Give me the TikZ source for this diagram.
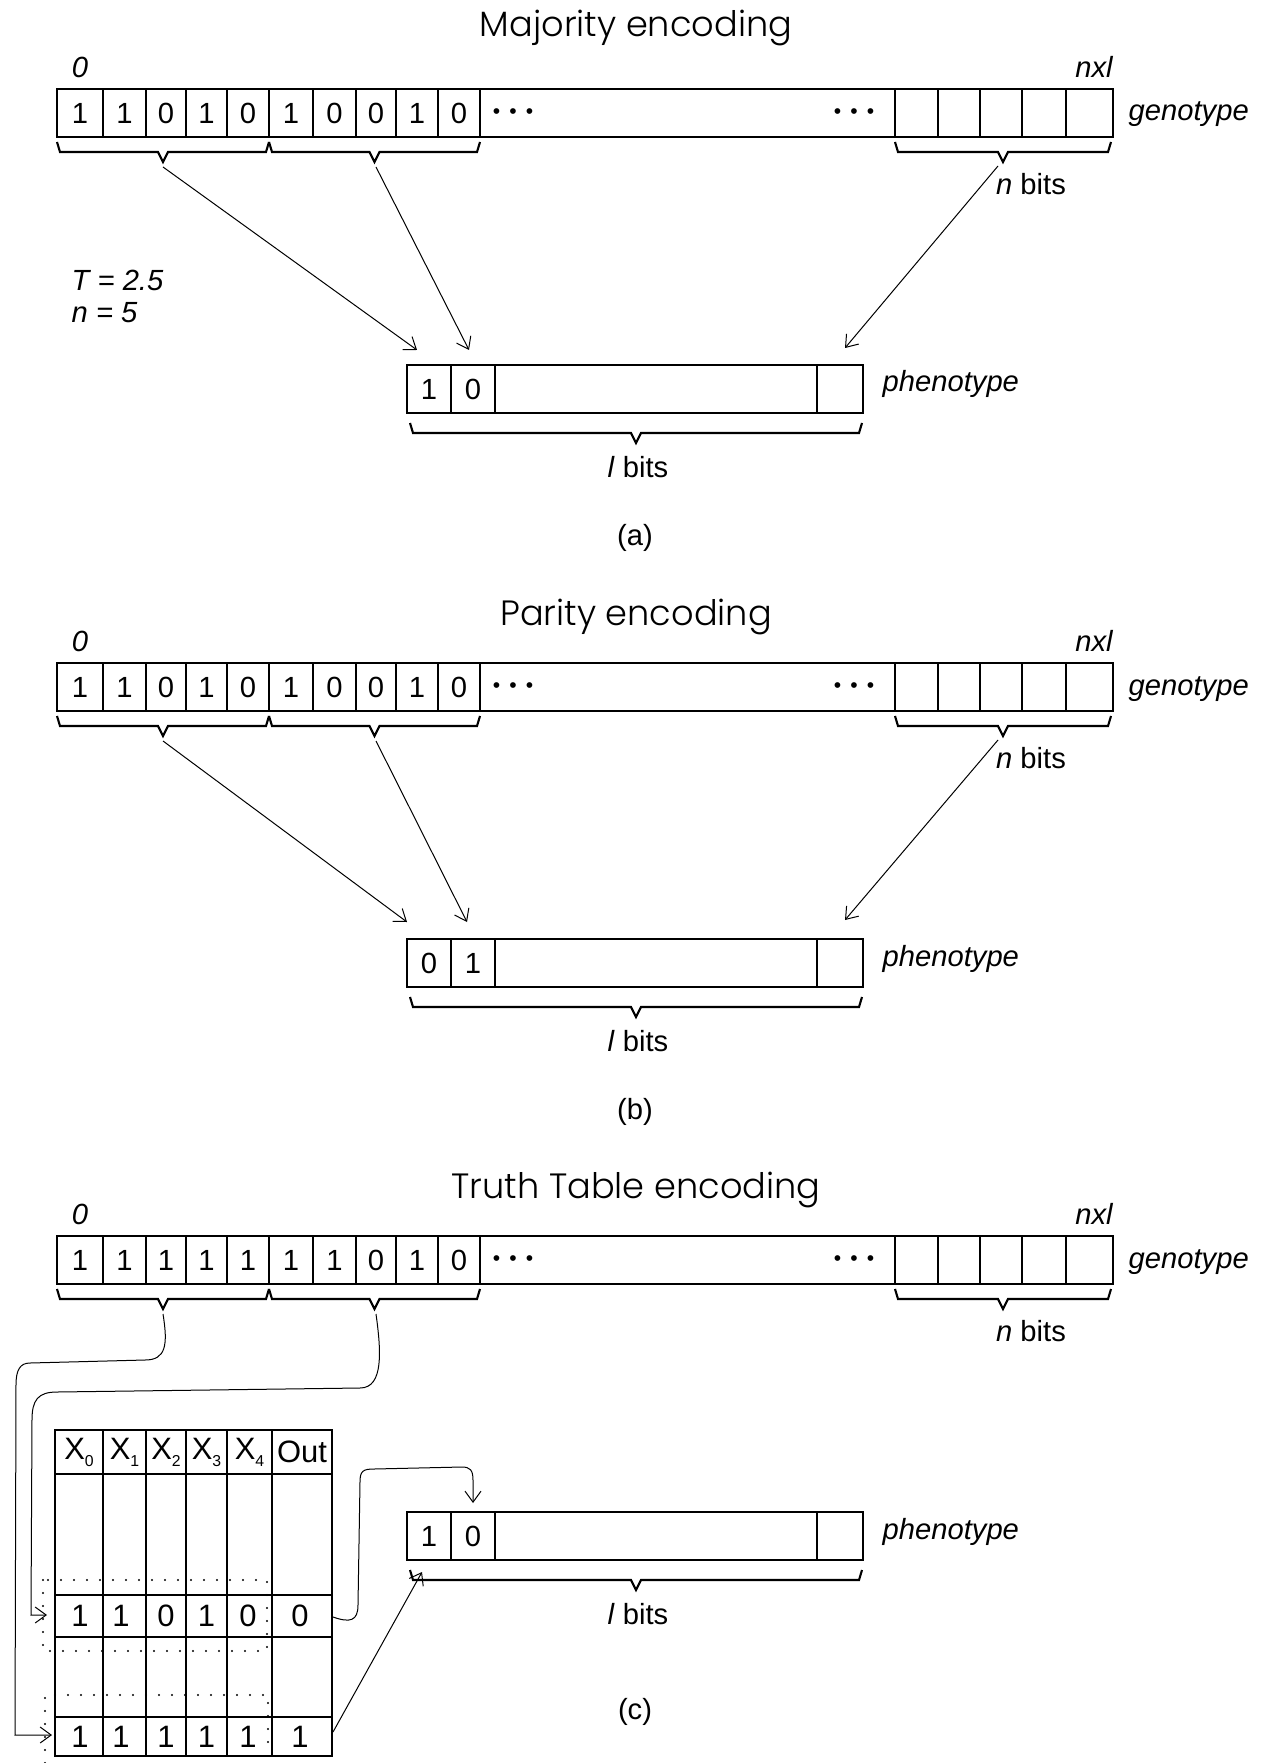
\documentclass[tikz,border=0pt]{standalone}
\usepackage{fontspec}
\setmainfont{Liberation Sans}
\IfFontExistsTF{Poppins Light}
  {\newfontfamily\titlefont{Poppins Light}}
  {\newfontfamily\titlefont{Poppins}}
\usetikzlibrary{arrows.meta}

\tikzset{
  cellbox/.style={line width=0.21mm},
  thinarrow/.style={line width=0.1mm, -{Straight Barb[length=1.1mm,width=1.6mm]}},
  bitlab/.style={font=\fontsize{8.3}{10}\selectfont, inner sep=0pt},
  rowlab/.style={font=\fontsize{8.8}{10}\selectfont, inner sep=0pt},
  sidelab/.style={font=\fontsize{8.3}{10}\selectfont\itshape, inner sep=0pt},
  heading/.style={font=\titlefont\fontsize{10}{12}\selectfont, inner sep=0pt, anchor=base},
  dotsrow/.style={font=\fontsize{6}{6}\selectfont, inner sep=0pt},
  dotrule/.style={line width=0.22mm, line cap=round, dash pattern=on 0pt off 1.3mm},
}

% angular brace under a run of cells: left x, right x, top y
\newcommand{\bitbrace}[3]{%
  \draw[cellbox] (#1,#3) -- ++(3,10) -- ({(#1+#2)/2-5},#3+10) -- ++(5,10)
    -- ++(5,-10) -- (#2-3,#3+10) -- (#2,#3);}

% genotype string: name prefix, ten bits
\newcommand{\genostring}[2]{%
  \draw[cellbox] (57,89) rectangle (1113,137);
  \foreach \x in {103,146,186,227,269,313,356,396,438,480,895,938,980,1022,1066}
    \draw[cellbox] (\x,89) -- (\x,137);
  \foreach \bit [count=\i] in {#2} {
    \pgfmathsetmacro{\xc}{{80,124.5,166,206.5,248,291,334.5,376,417,459}[\i-1]}
    \node[bitlab] (#1-g\i) at (\xc,113) {\bit};
  }
  \node[dotsrow] (#1-d1) at (513,114) {\textbullet\hspace{2.6pt}\textbullet\hspace{2.6pt}\textbullet};
  \node[dotsrow] (#1-d2) at (854,114) {\textbullet\hspace{2.6pt}\textbullet\hspace{2.6pt}\textbullet};
  \node[sidelab] (#1-zero) at (80,67) {0};
  \node[sidelab] (#1-nxl) at (1094,67) {nxl};
  \node[sidelab,anchor=base west] (#1-geno) at (1128,121) {genotype};
  \bitbrace{57}{269}{142}
  \bitbrace{269}{480}{142}
  \bitbrace{895}{1111}{142}
  \coordinate (#1-t1) at (163,167);
  \coordinate (#1-t2) at (376,167);
  \coordinate (#1-t3) at (998,166);
  \node[bitlab] (#1-nbits) at (1031,184) {\textit{n} bits};
}

% phenotype string: name prefix, first two bits
\newcommand{\phenostring}[3]{%
  \draw[cellbox] (407,365) rectangle (863,413);
  \foreach \x in {451,495,817}
    \draw[cellbox] (\x,365) -- (\x,413);
  \node[bitlab] (#1-p1) at (429,389) {#2};
  \node[bitlab] (#1-p2) at (473,389) {#3};
  \node[sidelab,anchor=base west] (#1-pheno) at (882,392) {phenotype};
  \bitbrace{410}{862}{423}
  \node[bitlab] (#1-lbits) at (638,467) {\textit{l} bits};
}

\begin{document}
\begin{tikzpicture}[x=0.1mm, y=-0.1mm]
\useasboundingbox (0,0) rectangle (1268,1763);

% ---- (a) majority ------------------------------------------------------------
\node[heading] (a-title) at (636,37) {Majority encoding};
\genostring{a}{1,1,0,1,0,1,0,0,1,0}
\phenostring{a}{1}{0}
\node[sidelab,anchor=west] (a-T) at (71,280) {T = 2.5};
\node[sidelab,anchor=west] (a-n) at (71,313) {n = 5};
\coordinate (a-h1) at (417,350);
\coordinate (a-h2) at (469,350);
\coordinate (a-h3) at (845,348);
\foreach \k in {1,2,3}
  \draw[thinarrow] (a-t\k) -- (a-h\k);
\node[bitlab] (a-cap) at (635,538) {(a)};

% ---- (b) parity --------------------------------------------------------------
\begin{scope}[shift={(0,574)}]
\node[heading] (b-title) at (636,51) {Parity encoding};
\genostring{b}{1,1,0,1,0,1,0,0,1,0}
\phenostring{b}{0}{1}
\coordinate (b-h1) at (407,348);
\coordinate (b-h2) at (467,348);
\coordinate (b-h3) at (845,346);
\foreach \k in {1,2,3}
  \draw[thinarrow] (b-t\k) -- (b-h\k);
\node[bitlab] (b-cap) at (635,538) {(b)};
\end{scope}

% ---- (c) truth table ---------------------------------------------------------
\begin{scope}[shift={(0,1147)}]
\node[heading] (c-title) at (636,51) {Truth Table encoding};
\genostring{c}{1,1,1,1,1,1,1,0,1,0}
\phenostring{c}{1}{0}
\coordinate (c-pin) at (473,356);
\coordinate (c-bl) at (422,425);
\node[bitlab] (c-cap) at (635,565) {(c)};
\end{scope}

% table frame
\draw[cellbox] (55,1430) rectangle (332,1756);
\foreach \x in {103,146,186,227,272}
  \draw[cellbox] (\x,1430) -- (\x,1756);
\foreach \y in {1474,1595,1637,1717}
  \draw[cellbox] (55,\y) -- (332,\y);

% header and the two rows shown
\foreach \xc/\i in {79/0,124.5/1,166/2,206.5/3,249.5/4}
  \node[rowlab] (hx\i) at (\xc,1452) {X\raisebox{-2pt}{\fontsize{4.5}{5}\selectfont\i}};
\node[rowlab] (hout) at (302,1452) {Out};
\foreach \xc/\bit [count=\i] in {80/1,121/1,166/0,206.5/1,248/0}
  \node[rowlab] (ra\i) at (\xc,1616) {\bit};
\node[rowlab] (raout) at (300,1616) {0};
\foreach \xc/\bit [count=\i] in {80/1,121/1,166/1,206.5/1,248/1}
  \node[rowlab] (rb\i) at (\xc,1737) {\bit};
\node[rowlab] (rbout) at (300,1737) {1};

% dotted frames round the selected inputs
\draw[dotrule] (43,1580) rectangle (267,1651);
\draw[dotrule] (45,1763) -- (45,1695) -- (268,1695) -- (268,1752);

% ---- connectors into and out of the table -------------------------------------
\coordinate (ra-in) at (47,1615);
\coordinate (rb-in) at (52,1735);
\coordinate (ra-end) at (333,1617);
\coordinate (rb-end) at (333,1732);

\draw[thinarrow] (c-t2) .. controls (381,1350) and (384,1388) .. (360,1388)
  -- (57,1392) .. controls (38,1392) and (32,1400) .. (32,1420) -- (31,1615) -- (ra-in);
\draw[thinarrow] (c-t1) .. controls (168,1345) and (166,1360) .. (145,1360)
  -- (30,1363) .. controls (20,1363) and (16,1370) .. (16,1385) -- (15,1735) -- (rb-in);
\draw[thinarrow] (ra-end) .. controls (350,1623) and (358,1621) .. (358,1605)
  -- (360,1482) .. controls (360,1471) and (363,1469) .. (374,1469)
  -- (462,1467) .. controls (470,1467) and (473,1470) .. (473,1480) -- (c-pin);
\draw[thinarrow] (rb-end) -- (c-bl);

\end{tikzpicture}
\end{document}
